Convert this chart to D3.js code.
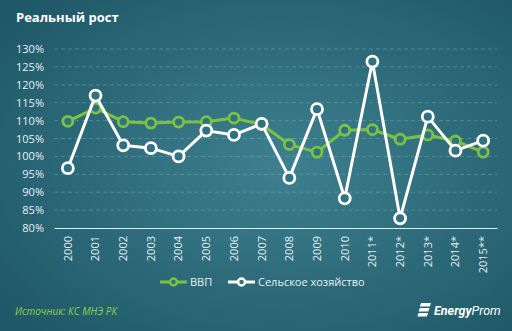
<!DOCTYPE html>
<html><head><meta charset="utf-8">
<script src="https://cdn.jsdelivr.net/npm/d3@7"></script>
<style>
html,body{margin:0;padding:0;background:#2a6a7a;}
svg{display:block;font-family:"Open Sans","DejaVu Sans",sans-serif;}
</style></head>
<body><svg id="c" width="512" height="331"></svg>
<script>
const years = ["2000","2001","2002","2003","2004","2005","2006","2007","2008","2009","2010","2011*","2012*","2013*","2014*","2015**"];
const gdp = [109.8,113.5,109.7,109.3,109.6,109.7,110.7,108.9,103.3,101.2,107.3,107.5,104.8,106.0,104.3,101.2];
const agro = [96.7,117.0,103.1,102.3,100.0,107.2,106.0,109.1,94.0,113.2,88.3,126.5,82.7,111.1,101.6,104.4];
const yTicks = [80,85,90,95,100,105,110,115,120,125,130];
const seriesNames = ["ВВП","Сельское хозяйство"];
const colors = ["#7cc242","#ffffff"];

const svg = d3.select("#c");
const W = 512, H = 331;
const defs = svg.append("defs");
const rg = defs.append("radialGradient").attr("id","bg").attr("cx","55%").attr("cy","50%").attr("r","70%");
rg.append("stop").attr("offset","0%").attr("stop-color","#3d808f");
rg.append("stop").attr("offset","100%").attr("stop-color","#1f5867");
svg.append("rect").attr("width",W).attr("height",H).attr("fill","url(#bg)");

svg.append("text").attr("x",16).attr("y",22).attr("fill","#ffffff")
  .attr("font-size",13).attr("font-weight","bold").text("Реальный  рост");

const x = d3.scaleBand().domain(years).range([54,497]);
const y = d3.scaleLinear().domain([80,130]).range([228,49]);

// grid
svg.append("g").selectAll("line").data(yTicks.filter(d=>d>80)).join("line")
  .attr("x1",54).attr("x2",497).attr("y1",d=>y(d)).attr("y2",d=>y(d))
  .attr("stroke","#7fb0bc").attr("stroke-opacity",0.55).attr("stroke-width",0.8).attr("stroke-dasharray","4,3");

// y axis labels
const ya = svg.append("g").attr("transform","translate(44,0)")
  .call(d3.axisLeft(y).tickValues(yTicks).tickFormat(d=>d+"%").tickSize(0).tickPadding(0));
ya.select(".domain").remove();
ya.selectAll("text").attr("fill","#e6f0f2").attr("font-size",11).attr("font-family","'Open Sans','DejaVu Sans',sans-serif");

// x axis
const xa = svg.append("g").attr("transform","translate(0,228)")
  .call(d3.axisBottom(x).tickSize(0).tickPadding(0));
xa.select(".domain").attr("stroke","#dceef2").attr("stroke-width",1.2);
xa.selectAll("text").attr("fill","#e6f0f2").attr("font-size",11)
  .attr("font-family","'Open Sans','DejaVu Sans',sans-serif")
  .attr("text-anchor","end").attr("dy","0.35em")
  .attr("transform","translate(0,8) rotate(-90)");

const cx = d => x(d)+x.bandwidth()/2;
const line = d3.line().x((d,i)=>cx(years[i])).y(d=>y(d));
[gdp,agro].forEach((s,k)=>{
  const g = svg.append("g");
  g.append("path").datum(s).attr("d",line).attr("fill","none")
    .attr("stroke",colors[k]).attr("stroke-width",3).attr("stroke-linejoin","round");
  g.selectAll("circle").data(s).join("circle")
    .attr("cx",(d,i)=>cx(years[i])).attr("cy",d=>y(d)).attr("r",k?5.5:5)
    .attr("fill","#2f7282").attr("stroke",colors[k]).attr("stroke-width",2.8);
});

// legend
const leg = [[160,187,190],[228,255,258]];
seriesNames.forEach((n,k)=>{
  const [a,b,t] = leg[k];
  svg.append("line").attr("x1",a).attr("x2",b).attr("y1",282).attr("y2",282)
    .attr("stroke",colors[k]).attr("stroke-width",3);
  svg.append("circle").attr("cx",(a+b)/2).attr("cy",282).attr("r",3.5)
    .attr("fill","#2f7282").attr("stroke",colors[k]).attr("stroke-width",2.5);
  svg.append("text").attr("x",t).attr("y",286).attr("fill","#e6f0f2").attr("font-size",11).text(n);
});

// source
svg.append("text").attr("x",15).attr("y",315).attr("fill","#8ed04c").attr("font-size",10)
  .attr("font-style","italic").text("Источник: КС МНЭ РК");

// logo
const lg = svg.append("g").attr("transform","translate(416,303)");
[0,5,10].forEach((d,i)=>{
  lg.append("path").attr("d",`M${5-i*1.2},${d} h${10-i*0.3} l-1.2,3.5 h-${10-i*0.3} z`).attr("fill","#ffffff");
});
lg.append("text").attr("x",18).attr("y",12).attr("fill","#ffffff").attr("font-size",12.5)
  .attr("font-style","italic").attr("font-family","Roboto,'Open Sans',sans-serif")
  .html('<tspan font-weight="bold">Energy</tspan>Prom');
</script></body></html>
